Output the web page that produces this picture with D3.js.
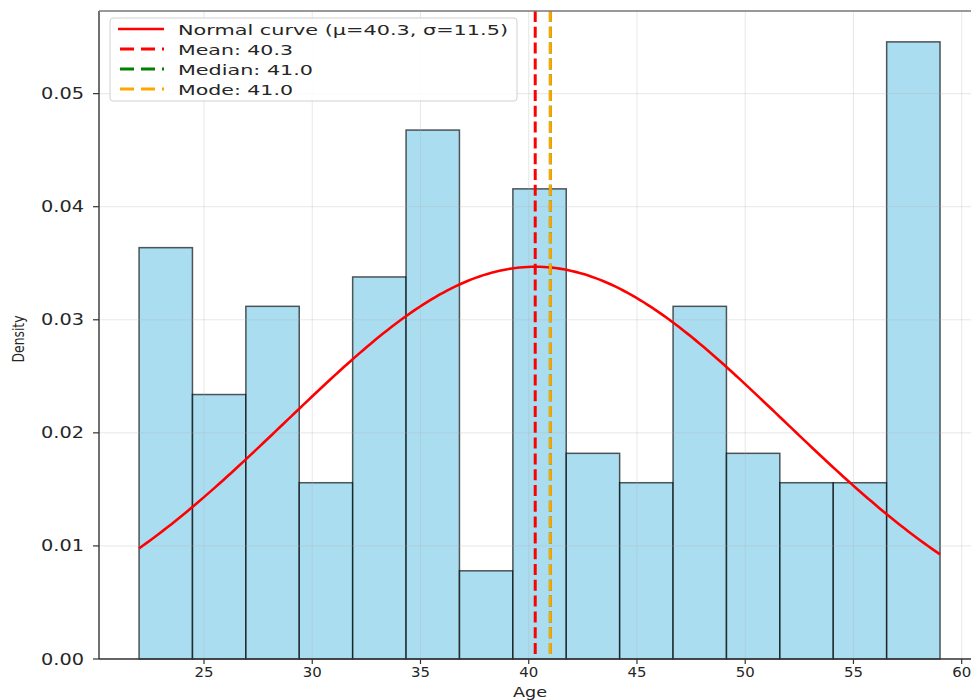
<!DOCTYPE html>
<html>
<head>
<meta charset="utf-8">
<script src="https://cdn.jsdelivr.net/npm/d3@7"></script>
<style>
  html, body { margin: 0; padding: 0; background: #fff; }
  svg { display: block; }
  text { font-family: "DejaVu Sans", sans-serif; fill: #262626; }
</style>
</head>
<body>
<svg id="chart" width="971" height="700"></svg>
<script>
// Age histogram (density) with fitted normal curve and central-tendency markers
const ageMin = 22;
const ageMax = 59;
const binCount = 15;
const densities = [0.03638, 0.02339, 0.03119, 0.01559, 0.03379, 0.04678, 0.00780,
                   0.04158, 0.01819, 0.01559, 0.03119, 0.01819, 0.01559, 0.01559, 0.05458];
const mu = 40.3;
const sigma = 11.5;
const meanAge = 40.3;
const medianAge = 41.0;
const modeAge = 41.0;
const xTicks = [25, 30, 35, 40, 45, 50, 55, 60];
const yTicks = [0.00, 0.01, 0.02, 0.03, 0.04, 0.05];

const svg = d3.select("#chart");
const pLeft = 99, pRight = 980.1, pTop = 11, pBottom = 659;
const pad = (ageMax - ageMin) * 0.05;
const x = d3.scaleLinear().domain([ageMin - pad, ageMax + pad]).range([pLeft, pRight]);
const yMax = d3.max(densities) * 1.05;
const y = d3.scaleLinear().domain([0, yMax]).range([pBottom, pTop]);

svg.append("clipPath").attr("id", "plotClip")
  .append("rect").attr("x", pLeft).attr("y", pTop).attr("width", pRight - pLeft).attr("height", pBottom - pTop);
const plot = svg.append("g");

// bars
const binWidth = (ageMax - ageMin) / binCount;
const bins = densities.map((d, i) => ({ x0: ageMin + i * binWidth, x1: ageMin + (i + 1) * binWidth, d }));
plot.append("g").selectAll("rect").data(bins).join("rect")
  .attr("x", b => x(b.x0))
  .attr("y", b => y(b.d))
  .attr("width", b => x(b.x1) - x(b.x0))
  .attr("height", b => y(0) - y(b.d))
  .attr("fill", "#87CEEB").attr("fill-opacity", 0.7)
  .attr("stroke", "#000").attr("stroke-opacity", 0.65).attr("stroke-width", 1.5);

// grid
const grid = plot.append("g").attr("clip-path", "url(#plotClip)")
  .attr("stroke", "#b0b0b0").attr("stroke-opacity", 0.3).attr("stroke-width", 1);
grid.selectAll("line.gx").data(xTicks).join("line").attr("class", "gx")
  .attr("x1", d => x(d)).attr("x2", d => x(d)).attr("y1", pTop).attr("y2", pBottom);
grid.selectAll("line.gy").data(yTicks).join("line").attr("class", "gy")
  .attr("x1", pLeft).attr("x2", pRight).attr("y1", d => y(d)).attr("y2", d => y(d));

// normal curve
const pdf = v => Math.exp(-0.5 * ((v - mu) / sigma) ** 2) / (sigma * Math.sqrt(2 * Math.PI));
const curveX = d3.range(0, 201).map(i => ageMin + (ageMax - ageMin) * i / 200);
plot.append("path")
  .datum(curveX)
  .attr("fill", "none").attr("stroke", "#ff0000").attr("stroke-width", 2.6)
  .attr("d", d3.line().x(v => x(v)).y(v => y(pdf(v))));

// vertical markers
const markers = [
  { v: meanAge, color: "#ff0000" },
  { v: medianAge, color: "#008000" },
  { v: modeAge, color: "#FFA500" }
];
plot.append("g").selectAll("line").data(markers).join("line")
  .attr("x1", m => x(m.v)).attr("x2", m => x(m.v))
  .attr("y1", pTop).attr("y2", pBottom)
  .attr("stroke", m => m.color).attr("stroke-width", 3)
  .attr("stroke-dasharray", "11,4.8");

// spines
const spines = svg.append("g").attr("stroke", "#4d4d4d").attr("stroke-width", 1.6);
spines.append("line").attr("x1", pLeft).attr("x2", pLeft).attr("y1", pTop).attr("y2", pBottom);
spines.append("line").attr("x1", pLeft).attr("x2", 971).attr("y1", pTop).attr("y2", pTop).attr("stroke", "#777");
spines.append("line").attr("x1", pLeft).attr("x2", 971).attr("y1", pBottom).attr("y2", pBottom).attr("stroke", "#333");

// x axis
const xAxis = svg.append("g");
xAxis.selectAll("line").data(xTicks).join("line")
  .attr("x1", d => x(d)).attr("x2", d => x(d)).attr("y1", pBottom).attr("y2", pBottom + 5)
  .attr("stroke", "#333").attr("stroke-width", 1.2);
xAxis.selectAll("text").data(xTicks).join("text")
  .attr("x", d => x(d)).attr("y", pBottom + 18)
  .attr("text-anchor", "middle").attr("font-size", 14)
  .attr("textLength", 19).attr("lengthAdjust", "spacingAndGlyphs")
  .text(d => d3.format("d")(d));
svg.append("text").attr("x", 530).attr("y", 697)
  .attr("text-anchor", "middle").attr("font-size", 14)
  .attr("textLength", 34).attr("lengthAdjust", "spacingAndGlyphs")
  .text("Age");

// y axis
const yAxis = svg.append("g");
yAxis.selectAll("line").data(yTicks).join("line")
  .attr("x1", pLeft - 6).attr("x2", pLeft).attr("y1", d => y(d)).attr("y2", d => y(d))
  .attr("stroke", "#333").attr("stroke-width", 1.2);
yAxis.selectAll("text").data(yTicks).join("text")
  .attr("x", 84).attr("y", d => y(d) + 5.5)
  .attr("text-anchor", "end").attr("font-size", 15)
  .attr("textLength", 43).attr("lengthAdjust", "spacingAndGlyphs")
  .text(d => d3.format(".2f")(d));
svg.append("text")
  .attr("transform", "translate(24,339) rotate(-90)")
  .attr("text-anchor", "middle").attr("font-size", 16)
  .attr("textLength", 47).attr("lengthAdjust", "spacingAndGlyphs")
  .text("Density");

// legend
const legendItems = [
  { label: `Normal curve (μ=${mu}, σ=${sigma})`, color: "#ff0000", dash: null, w: 330 },
  { label: `Mean: ${meanAge.toFixed(1)}`, color: "#ff0000", dash: "11,4.8", w: 115 },
  { label: `Median: ${medianAge.toFixed(1)}`, color: "#008000", dash: "11,4.8", w: 135 },
  { label: `Mode: ${modeAge.toFixed(1)}`, color: "#FFA500", dash: "11,4.8", w: 115 }
];
const legend = svg.append("g");
legend.append("rect")
  .attr("x", 110).attr("y", 18).attr("width", 407).attr("height", 83)
  .attr("rx", 3).attr("fill", "#fff").attr("fill-opacity", 0.85)
  .attr("stroke", "#d0d0d0").attr("stroke-width", 1);
const rows = legend.selectAll("g.row").data(legendItems).join("g").attr("class", "row")
  .attr("transform", (d, i) => `translate(0,${29 + i * 20})`);
rows.append("line")
  .attr("x1", 118).attr("x2", 164).attr("y1", 0).attr("y2", 0)
  .attr("stroke", d => d.color).attr("stroke-width", d => d.dash ? 3 : 2.6)
  .attr("stroke-dasharray", d => d.dash ? "14,7" : null)
  .attr("stroke-dashoffset", -2);
rows.append("text")
  .attr("x", 178).attr("y", 5.5).attr("font-size", 14.5)
  .attr("textLength", d => d.w).attr("lengthAdjust", "spacingAndGlyphs")
  .text(d => d.label);
</script>
</body>
</html>
